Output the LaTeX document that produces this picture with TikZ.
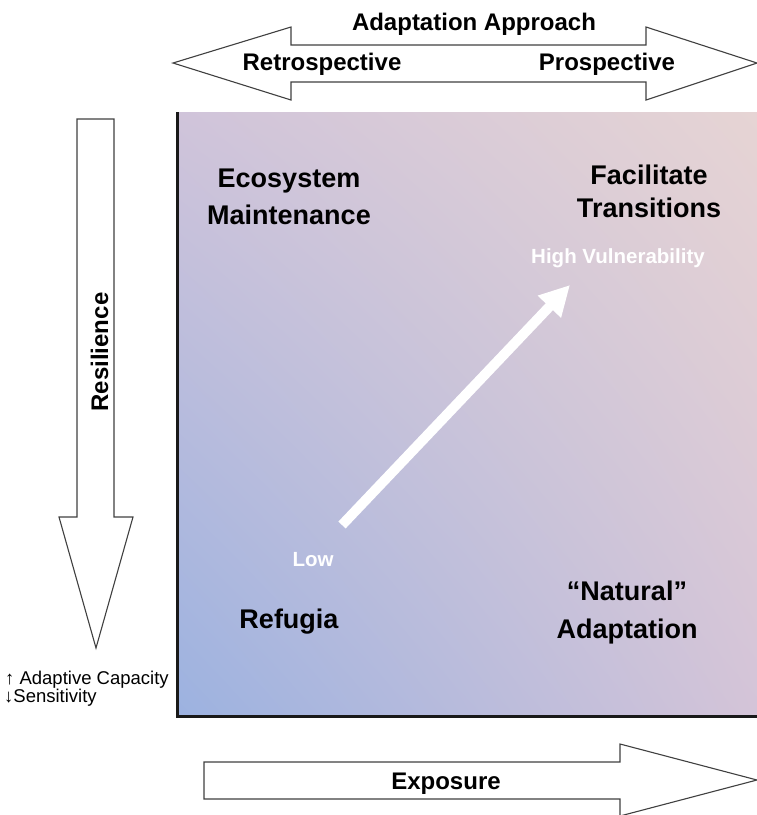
\documentclass[tikz,border=0pt]{standalone}
\usepackage{fontspec}
\setmainfont{Liberation Sans}
\usepackage{xcolor}
\usetikzlibrary{arrows.meta,shadings}

\definecolor{cLL}{HTML}{9CB2E0}
\definecolor{cUL}{HTML}{D0C4DA}
\definecolor{cUR}{HTML}{E6D4D4}
\definecolor{cLR}{HTML}{D4C4D8}

\tikzset{
  bigarrow/.style={draw=black!75, fill=white, line width=1.1pt, line join=miter},
  axlbl/.style={font=\bfseries\fontsize{24}{28}\selectfont, inner sep=0pt, anchor=base},
  quad/.style={font=\bfseries\fontsize{27}{37}\selectfont, inner sep=0pt, align=center, anchor=base},
  vuln/.style={font=\bfseries\fontsize{20.5}{24}\selectfont, text=white, inner sep=0pt, anchor=base},
  note/.style={font=\fontsize{18.5}{20}\selectfont, inner sep=0pt, anchor=base west}
}

\begin{document}
\begin{tikzpicture}[x=1pt,y=-1pt]
\useasboundingbox (0,0) rectangle (757,815);
% поле
\shade[upper left=cUL, upper right=cUR, lower left=cLL, lower right=cLR] (177,112) rectangle (757,716);
\draw [line width=3pt, black!90] (177,112) -- (177,716) -- (757,716);
% стрелки
\draw [bigarrow] (173,63) -- (291,27) -- (291,45) -- (646,45) -- (646,27) -- (757,63)
  -- (646,100) -- (646,82) -- (291,82) -- (291,100) -- cycle;
\draw [bigarrow] (77,119) -- (114,119) -- (114,517) -- (133,517) -- (96,648)
  -- (59,517) -- (77,517) -- cycle;
\draw [bigarrow] (204,762) -- (620,762) -- (620,744) -- (757,780) -- (620,816)
  -- (620,799) -- (204,799) -- cycle;
% уязвимость
\coordinate (vlow) at (342,525);
\coordinate (vhigh) at (570,285);
\draw [white, line width=10pt, -{Triangle[length=30pt,width=30pt]}] (vlow) -- (vhigh);
% подписи
\node [axlbl] (approach) at (474,30) {Adaptation Approach};
\node [axlbl] (retro) at (322,70) {Retrospective};
\node [axlbl] (prosp) at (607,70) {Prospective};
\node [axlbl] (expo) at (446,789) {Exposure};
\node [axlbl, rotate=90] (resil) at (108,352) {Resilience};
\node [note] (adcap) at (5,684) {↑ Adaptive Capacity};
\node [note] (sens) at (4,702) {↓Sensitivity};
\node [quad] (eco) at (289,224) {Ecosystem\\Maintenance};
\node [quad, font=\bfseries\fontsize{27}{33}\selectfont] (facil) at (649,217) {Facilitate\\Transitions};
\node [quad] (refug) at (289,628) {Refugia};
\node [quad, font=\bfseries\fontsize{27}{38}\selectfont] (natur) at (627,638) {“Natural”\\Adaptation};
\node [vuln] (high) at (618,263) {High Vulnerability};
\node [vuln] (low) at (313,566) {Low};
\end{tikzpicture}
\end{document}
